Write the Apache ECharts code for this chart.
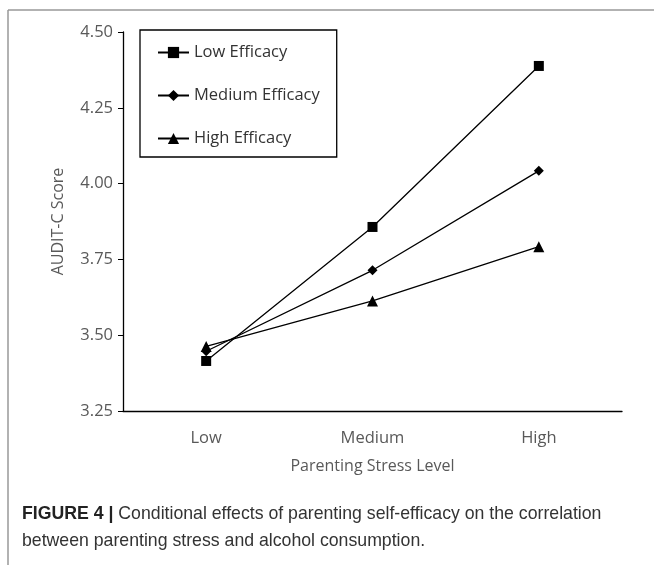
<!DOCTYPE html>
<html>
<head>
<meta charset="utf-8">
<style>
    html, body { margin: 0; padding: 0; background: #fff; }
    #chart { width: 654px; height: 565px; }
</style>
</head>
<body>
<div id="chart"></div>
<script src="https://cdn.jsdelivr.net/npm/echarts@6/dist/echarts.min.js"></script>
<script>
    // 数据
    var stressLevels = ['Low', 'Medium', 'High'];
    var lowEfficacy = [3.415, 3.857, 4.388];
    var mediumEfficacy = [3.447, 3.714, 4.042];
    var highEfficacy = [3.463, 3.613, 3.792];
    var yTicks = [3.25, 3.50, 3.75, 4.00, 4.25, 4.50];

    var fontCal = '"Open Sans", "DejaVu Sans", sans-serif';
    var grey = '#595959';

    var chart = echarts.init(document.getElementById('chart'));

    function lineSeries(name, data, symbol, size) {
        return {
            name: name,
            type: 'line',
            data: data,
            symbol: symbol,
            symbolSize: size,
            lineStyle: { color: '#000', width: 1.3 },
            itemStyle: { color: '#000' },
            emphasis: { disabled: true },
            z: 3
        };
    }

    var option = {
        animation: false,
        grid: {
            left: 123,
            right: 32,
            top: 32,
            bottom: 154
        },
        legend: {
            orient: 'vertical',
            left: 140,
            top: 30,
            padding: [14, 17, 10, 17],
            itemGap: 26,
            itemWidth: 31,
            itemHeight: 14,
            borderColor: '#000',
            borderWidth: 1.3,
            textStyle: { fontFamily: fontCal, fontSize: 16.5, color: '#333' },
            data: ['Low Efficacy', 'Medium Efficacy', 'High Efficacy']
        },
        xAxis: {
            type: 'category',
            data: stressLevels,
            boundaryGap: true,
            name: 'Parenting Stress Level',
            nameLocation: 'middle',
            nameGap: 47,
            nameTextStyle: { fontFamily: fontCal, fontSize: 16, color: grey },
            axisLine: { lineStyle: { color: '#000', width: 1.3 } },
            axisTick: { alignWithLabel: true, length: 5, lineStyle: { color: '#000' } },
            axisLabel: { fontFamily: fontCal, fontSize: 16.5, color: grey, margin: 19 }
        },
        yAxis: {
            type: 'value',
            min: yTicks[0],
            max: yTicks[yTicks.length - 1],
            interval: 0.25,
            name: 'AUDIT-C Score',
            nameLocation: 'middle',
            nameGap: 57,
            nameTextStyle: { fontFamily: fontCal, fontSize: 16, color: grey },
            splitLine: { show: false },
            axisLine: { show: true, lineStyle: { color: '#000', width: 1.3 } },
            axisTick: { show: true, length: 5, lineStyle: { color: '#000' } },
            axisLabel: {
                fontFamily: fontCal, fontSize: 16.5, color: grey, margin: 10,
                formatter: function (v) { return v.toFixed(2); }
            }
        },
        graphic: [
            // 外框
            { type: 'line', shape: { x1: 8, y1: 10, x2: 654, y2: 10 }, style: { stroke: '#999', lineWidth: 1.5 } },
            { type: 'line', shape: { x1: 8, y1: 10, x2: 8, y2: 565 }, style: { stroke: '#999', lineWidth: 1.5 } },
            {
                type: 'text', left: 22, top: 501,
                style: {
                    text: '{b|FIGURE 4 |} Conditional effects of parenting self-efficacy on the correlation\nbetween parenting stress and alcohol consumption.',
                    fontFamily: '"Liberation Sans", Arial, sans-serif',
                    fontSize: 17.7,
                    lineHeight: 27,
                    fill: '#333',
                    rich: {
                        b: { fontWeight: 'bold', fontSize: 17.7, fontFamily: '"Liberation Sans", Arial, sans-serif', fill: '#222' }
                    }
                }
            }
        ],
        series: [
            lineSeries('Low Efficacy', lowEfficacy, 'rect', 10),
            lineSeries('Medium Efficacy', mediumEfficacy, 'diamond', 10),
            lineSeries('High Efficacy', highEfficacy, 'triangle', 11)
        ]
    };
    chart.setOption(option);
</script>
</body>
</html>
